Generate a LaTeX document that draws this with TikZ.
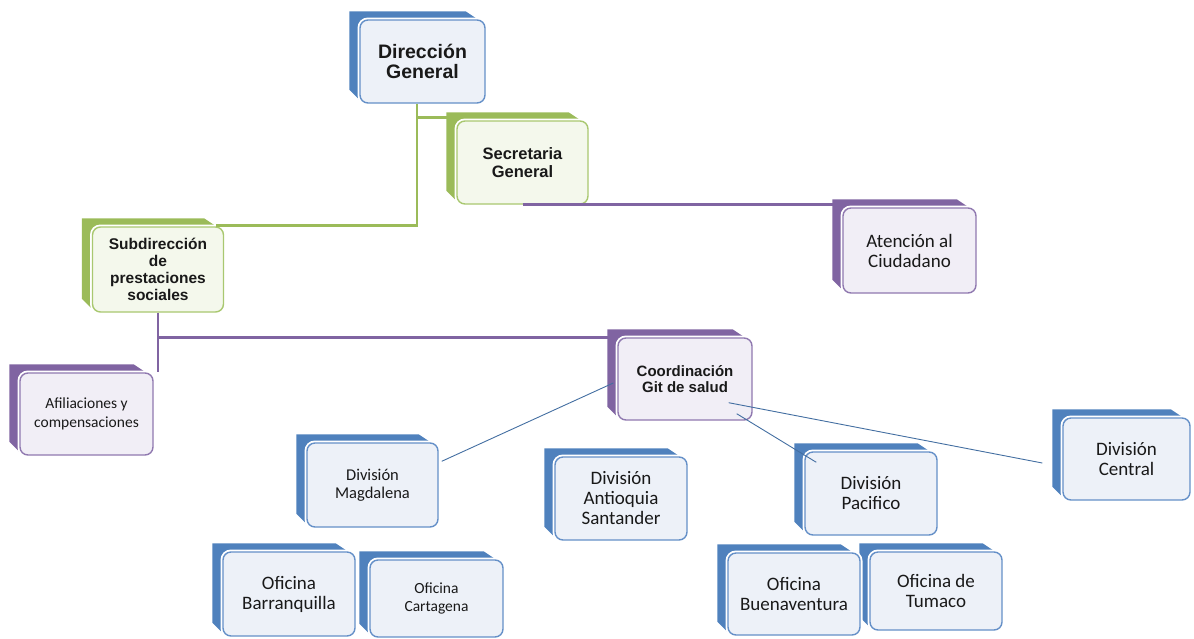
\documentclass[tikz,border=0pt]{standalone}
\usepackage{fontspec}
\setmainfont{Carlito}
\newfontfamily\arialfont{Liberation Sans}
\usetikzlibrary{calc,positioning}
\pgfdeclarelayer{back}
\pgfsetlayers{back,main}
\definecolor{blueslab}{HTML}{4F81BD}
\definecolor{blueline}{HTML}{6590C8}
\definecolor{bluefill}{HTML}{EDF1F8}
\definecolor{greenslab}{HTML}{9BBB59}
\definecolor{greenline}{HTML}{A9C870}
\definecolor{greenfill}{HTML}{F4F8EC}
\definecolor{purpleslab}{HTML}{8064A2}
\definecolor{purpleline}{HTML}{9079B0}
\definecolor{purplefill}{HTML}{F1EEF6}
\begin{document}
\begin{tikzpicture}[x=1pt,y=-1pt]
    \tikzset{
        unit/.style={rectangle, rounded corners=8pt, minimum width=131pt, minimum height=83pt,
            align=center, line width=1.4pt, inner sep=2pt, text=black!90,
            preaction={draw=white, line width=5pt}},
        blueunit/.style={unit, draw=blueline, fill=bluefill},
        greenunit/.style={unit, draw=greenline, fill=greenfill},
        purpleunit/.style={unit, draw=purpleline, fill=purplefill},
        bigtext/.style={font=\fontsize{19}{20}\selectfont},
        smalltext/.style={font=\fontsize{#1}{18.5}\selectfont},
        smalltext/.default=15.5,
        headtext/.style args={#1/#2}{font=\arialfont\bfseries\fontsize{#1}{#2}\selectfont},
        greenlink/.style={draw=greenslab, line width=2.5pt},
        purplelink/.style={draw=purpleslab, line width=2.5pt},
        bluelink/.style={draw=blueslab!85!black, line width=0.9pt},
    }
    \useasboundingbox (0,0) rectangle (1194,638);
    % upper levels
    \node[blueunit, minimum width=125pt, headtext=19.5/20] (dir) at (422.5,61.5) {Dirección\\General};
    \node[greenunit, headtext=16.5/17.5] (sec) at (522.5,162.5) {Secretaria\\General};
    \node[greenunit, minimum height=85pt, headtext=15.5/17] (sub) at (158,269.5) {Subdirección\\de\\prestaciones\\sociales};
    \node[purpleunit, minimum width=133pt, minimum height=85pt, bigtext] (atn) at (909.5,250.5) {Atención al\\Ciudadano};
    \node[purpleunit, minimum width=133pt, minimum height=82pt, smalltext] (afi) at (86.5,414) {Afiliaciones y\\compensaciones};
    \node[purpleunit, minimum width=134pt, minimum height=82pt, headtext=15/16.5] (crd) at (685,379) {Coordinación\\Git de salud};
    % divisions
    \node[blueunit, minimum height=84pt, smalltext=16.5] (mag) at (372.5,485) {División\\Magdalena};
    \node[blueunit, minimum width=132pt, bigtext] (ant) at (621,498.5) {División\\Antioquia\\Santander};
    \node[blueunit, minimum width=132pt, bigtext] (pac) at (871,493.5) {División\\Pacifico};
    \node[blueunit, minimum width=127pt, minimum height=82pt, bigtext] (cen) at (1126.5,459) {División\\Central};
    % offices
    \node[blueunit, minimum width=132pt, minimum height=84pt, bigtext] (bar) at (289,594) {Oficina\\Barranquilla};
    \node[blueunit, minimum width=133pt, minimum height=77pt, smalltext] (car) at (436.5,598.5) {Oficina\\Cartagena};
    \node[blueunit, minimum width=132pt, minimum height=82pt, bigtext] (bue) at (794,594) {Oficina\\Buenaventura};
    \node[blueunit, minimum width=132pt, minimum height=78pt, bigtext] (tum) at (936,591) {Oficina de\\Tumaco};
    % slabs behind the boxes
    \begin{pgfonlayer}{back}
        \foreach \n/\c in {dir/blueslab, sec/greenslab, sub/greenslab, atn/purpleslab, afi/purpleslab,
                crd/purpleslab, mag/blueslab, ant/blueslab, pac/blueslab, cen/blueslab,
                bar/blueslab, car/blueslab, bue/blueslab, tum/blueslab}
            \fill[\c] ($(\n.north west)+(-10,-8)$) -- ($(\n.north east)+(-20,-8)$) -- ($(\n.north east)+(-8,0)$)
                -- ($(\n.south west)+(0,-4)$) -- ($(\n.south west)+(-10,-14)$) -- cycle;
    \end{pgfonlayer}
    % links
    \coordinate (trunk) at ($(dir.south)+(-5.5,0)$);
    \coordinate (secjoin) at ($(sec.north west)+(-6,-3)$);
    \draw[greenlink] (trunk) |- ($(sub.north east)+(-8,-1)$);
    \draw[greenlink] (trunk |- secjoin) -- (secjoin);
    \draw[purplelink] (sec.south) -- (sec.south -| atn.north west);
    \draw[purplelink] (sub.south) -- (sub.south |- afi.north);
    \draw[purplelink] (sub.south |- crd.north) -- (crd.north west);
    \draw[bluelink] ($(mag.north east)+(3,19)$) -- ($(crd.west)+(-4,4)$);
    \draw[bluelink] ($(crd.south east)+(-24,-18)$) -- ($(cen.west)+(-20,4)$);
    \draw[bluelink] ($(crd.south east)+(-16,-7)$) -- ($(pac.north west)+(12,11)$);
\end{tikzpicture}
\end{document}
